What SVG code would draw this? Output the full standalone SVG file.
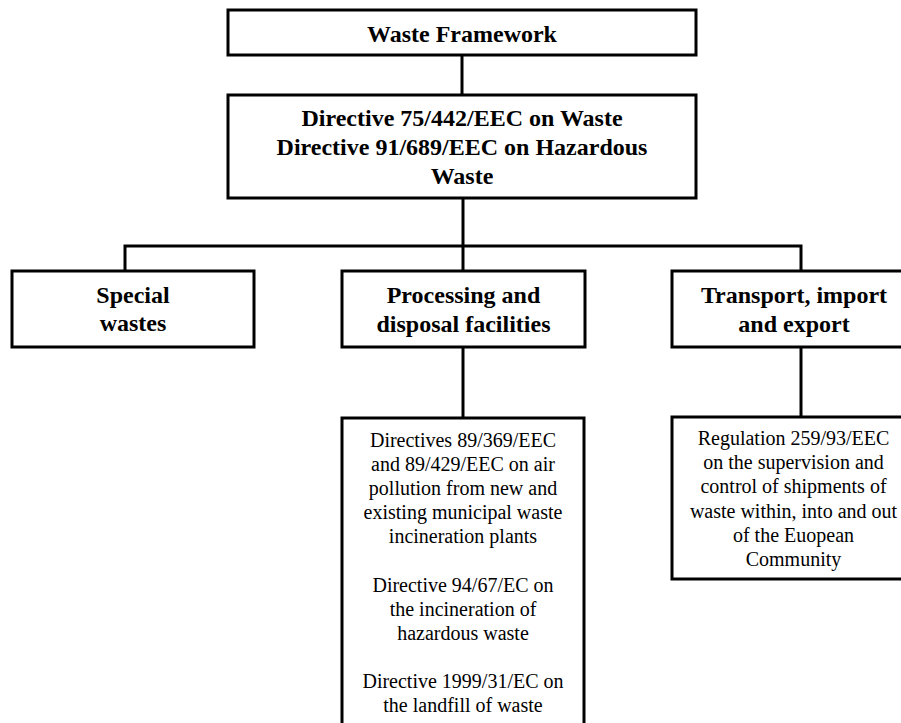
<svg xmlns="http://www.w3.org/2000/svg" width="901" height="723" viewBox="0 0 901 723">
<style>
.box{fill:#fff;stroke:#000;stroke-width:3}
.con{fill:none;stroke:#000;stroke-width:3}
.b{font-family:"Liberation Serif","Times New Roman",serif;font-weight:bold;font-size:24px;text-anchor:middle;fill:#000}
.r{font-family:"Liberation Serif","Times New Roman",serif;font-size:20px;text-anchor:middle;fill:#000}
</style>
<rect width="901" height="723" fill="#fff"/>
<g id="connectors">
<line class="con" x1="462" y1="55" x2="462" y2="95"/>
<line class="con" x1="463" y1="198" x2="463" y2="271"/>
<polyline class="con" points="125,271 125,246 801,246 801,271"/>
<line class="con" x1="463" y1="347" x2="463" y2="418"/>
<line class="con" x1="801" y1="347" x2="801" y2="417"/>
</g>
<g id="waste-framework">
<rect class="box" x="228" y="10" width="468" height="45"/>
<text class="b" x="462" y="42">Waste Framework</text>
</g>
<g id="directives">
<rect class="box" x="228" y="95" width="468" height="103"/>
<text class="b" x="462" y="126">Directive 75/442/EEC on Waste</text>
<text class="b" x="462" y="155">Directive 91/689/EEC on Hazardous</text>
<text class="b" x="462" y="184">Waste</text>
</g>
<g id="special-wastes">
<rect class="box" x="12" y="271" width="242" height="76"/>
<text class="b" x="133" y="303">Special</text>
<text class="b" x="133" y="331">wastes</text>
</g>
<g id="processing">
<rect class="box" x="342" y="271" width="243" height="76"/>
<text class="b" x="463.5" y="303">Processing and</text>
<text class="b" x="463.5" y="332">disposal facilities</text>
</g>
<g id="transport">
<rect class="box" x="672" y="271" width="245" height="76"/>
<text class="b" x="794" y="303">Transport, import</text>
<text class="b" x="794" y="332">and export</text>
</g>
<g id="processing-directives">
<rect class="box" x="342" y="418" width="242" height="330"/>
<text class="r" x="463" y="447">Directives 89/369/EEC</text>
<text class="r" x="463" y="471">and 89/429/EEC on air</text>
<text class="r" x="463" y="495">pollution from new and</text>
<text class="r" x="463" y="519">existing municipal waste</text>
<text class="r" x="463" y="543">incineration plants</text>
<text class="r" x="463" y="592">Directive 94/67/EC on</text>
<text class="r" x="463" y="616">the incineration of</text>
<text class="r" x="463" y="640">hazardous waste</text>
<text class="r" x="463" y="688">Directive 1999/31/EC on</text>
<text class="r" x="463" y="712">the landfill of waste</text>
</g>
<g id="transport-regulation">
<rect class="box" x="672" y="417" width="245" height="162"/>
<text class="r" x="793.5" y="445">Regulation 259/93/EEC</text>
<text class="r" x="793.5" y="469">on the supervision and</text>
<text class="r" x="793.5" y="493">control of shipments of</text>
<text class="r" x="793.5" y="518">waste within, into and out</text>
<text class="r" x="793.5" y="542">of the Euopean</text>
<text class="r" x="793.5" y="566">Community</text>
</g>
</svg>
